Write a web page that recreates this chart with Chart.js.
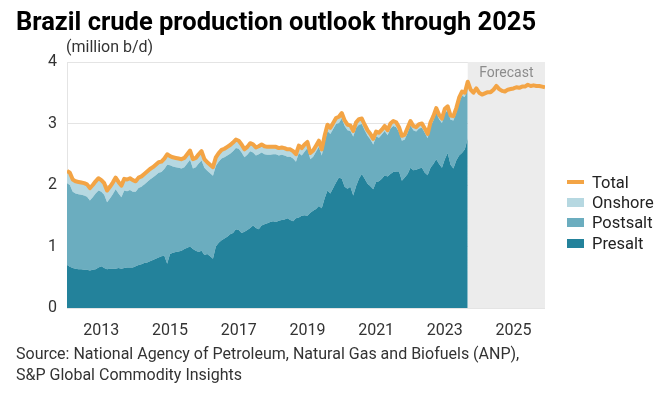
<!DOCTYPE html>
<html>
<head>
<meta charset="utf-8">
<title>Brazil crude production outlook through 2025</title>
<script src="https://cdn.jsdelivr.net/npm/chart.js@4"></script>
<style>
  body { margin: 0; background: #fff; font-family: Roboto, sans-serif; color: #222; }
  #wrap { position: relative; width: 659px; height: 394px; overflow: hidden; }
  #chart { position: absolute; left: 0; top: 0; }
  #title { position: absolute; left: 16px; top: 6px; font-size: 25.5px; font-weight: 700; color: #000; white-space: nowrap; }
  #unit { position: absolute; left: 66px; top: 37px; font-size: 16px; color: #333; }
  #legend { position: absolute; left: 567px; top: 172px; font-size: 16.5px; color: #222; }
  .item { height: 20.4px; display: flex; align-items: center; }
  .swatch { width: 17px; height: 9px; margin-right: 8px; }
  #source { position: absolute; left: 16px; top: 343px; font-size: 16px; line-height: 21px; color: #333; white-space: nowrap; }
</style>
</head>
<body>
<div id="wrap">
  <canvas id="chart" width="659" height="394"></canvas>
  <div id="title">Brazil crude production outlook through 2025</div>
  <div id="unit">(million b/d)</div>
  <div id="legend"></div>
  <div id="source">Source: National Agency of Petroleum, Natural Gas and Biofuels (ANP),<br>S&amp;P Global Commodity Insights</div>
</div>
<script>
// Monthly data, Jan 2012 onward (million b/d)
const startYear = 2012;
const forecastStart = 140; // index of first month inside the forecast band
const tickYears = [2013, 2015, 2017, 2019, 2021, 2023, 2025];

const total = [
  2.23, 2.20, 2.09, 2.06, 2.05, 2.04, 2.03, 2.01, 1.95, 2.00,
  2.06, 2.11, 2.08, 2.03, 1.91, 1.97, 2.04, 2.12, 2.05, 1.99,
  2.10, 2.09, 2.11, 2.08, 2.06, 2.12, 2.14, 2.18, 2.22, 2.26,
  2.29, 2.33, 2.37, 2.38, 2.43, 2.50, 2.47, 2.45, 2.44, 2.43,
  2.42, 2.44, 2.50, 2.56, 2.42, 2.44, 2.50, 2.55, 2.42, 2.37,
  2.33, 2.29, 2.45, 2.52, 2.57, 2.59, 2.62, 2.65, 2.69, 2.74,
  2.72, 2.66, 2.58, 2.62, 2.68, 2.66, 2.61, 2.63, 2.66, 2.63,
  2.62, 2.62, 2.62, 2.62, 2.60, 2.61, 2.60, 2.58, 2.58, 2.55,
  2.50, 2.64, 2.60, 2.66, 2.70, 2.52, 2.56, 2.64, 2.72, 2.58,
  2.80, 2.98, 2.93, 3.01, 3.09, 3.11, 3.17, 3.05, 2.98, 2.97,
  2.88, 3.02, 3.07, 3.08, 2.98, 2.89, 2.83, 2.75, 2.87, 2.85,
  2.90, 2.96, 2.89, 3.00, 3.04, 3.02, 2.94, 2.80, 2.82, 2.93,
  3.04, 2.96, 2.94, 2.99, 3.00, 2.92, 2.83, 3.02, 3.12, 3.25,
  3.14, 3.08, 3.24, 3.28, 3.13, 3.12, 3.25, 3.42, 3.52, 3.50,
  3.68, 3.55, 3.50, 3.57, 3.50, 3.47, 3.49, 3.51, 3.51, 3.55,
  3.61, 3.56, 3.53, 3.52, 3.55, 3.56, 3.57, 3.59, 3.58, 3.60,
  3.60, 3.63, 3.61, 3.62, 3.61, 3.61, 3.60, 3.59
];

const presalt = [
  0.70, 0.67, 0.65, 0.64, 0.63, 0.63, 0.62, 0.62, 0.61, 0.62,
  0.63, 0.66, 0.68, 0.65, 0.63, 0.64, 0.64, 0.64, 0.65, 0.64,
  0.65, 0.66, 0.66, 0.66, 0.68, 0.70, 0.71, 0.73, 0.74, 0.76,
  0.78, 0.80, 0.82, 0.84, 0.85, 0.72, 0.88, 0.90, 0.91, 0.92,
  0.93, 0.96, 0.98, 1.00, 0.96, 0.93, 0.91, 0.93, 0.86, 0.88,
  0.84, 0.80, 1.00, 1.06, 1.10, 1.13, 1.16, 1.20, 1.22, 1.28,
  1.27, 1.22, 1.24, 1.27, 1.30, 1.34, 1.30, 1.28, 1.34, 1.36,
  1.38, 1.40, 1.41, 1.40, 1.42, 1.43, 1.44, 1.46, 1.43, 1.41,
  1.46, 1.47, 1.50, 1.51, 1.50, 1.55, 1.58, 1.61, 1.66, 1.62,
  1.78, 1.91, 1.86, 1.95, 2.04, 2.12, 2.10, 1.97, 1.94, 1.97,
  1.83, 1.98, 2.10, 2.18, 2.10, 2.02, 1.98, 1.93, 2.05, 2.06,
  2.10, 2.16, 2.14, 2.18, 2.21, 2.22, 2.22, 2.07, 2.12, 2.18,
  2.28, 2.24, 2.25, 2.27, 2.28, 2.20, 2.16, 2.28, 2.34, 2.42,
  2.34, 2.28, 2.42, 2.52, 2.33, 2.27, 2.40, 2.48, 2.52, 2.58,
  2.76
];

const postsalt = [
  1.33, 1.33, 1.24, 1.22, 1.22, 1.21, 1.21, 1.19, 1.14, 1.18,
  1.23, 1.25, 1.21, 1.19, 1.09, 1.14, 1.21, 1.29, 1.21, 1.16,
  1.26, 1.24, 1.26, 1.23, 1.21, 1.25, 1.26, 1.28, 1.31, 1.33,
  1.34, 1.36, 1.38, 1.37, 1.41, 1.61, 1.44, 1.40, 1.38, 1.36,
  1.34, 1.33, 1.37, 1.41, 1.31, 1.36, 1.44, 1.47, 1.42, 1.35,
  1.35, 1.35, 1.31, 1.32, 1.33, 1.32, 1.32, 1.31, 1.33, 1.32,
  1.32, 1.31, 1.21, 1.22, 1.25, 1.19, 1.18, 1.22, 1.19, 1.14,
  1.11, 1.09, 1.09, 1.10, 1.06, 1.06, 1.04, 1.00, 1.03, 1.02,
  0.92, 1.05, 0.98, 1.03, 1.10, 0.87, 0.88, 0.93, 0.96, 0.86,
  0.92, 0.97, 0.97, 0.96, 0.95, 0.89, 0.98, 0.99, 0.95, 0.91,
  0.96, 0.95, 0.88, 0.81, 0.79, 0.78, 0.76, 0.73, 0.74, 0.71,
  0.72, 0.72, 0.67, 0.74, 0.75, 0.72, 0.64, 0.65, 0.62, 0.67,
  0.69, 0.65, 0.62, 0.65, 0.65, 0.65, 0.60, 0.67, 0.71, 0.76,
  0.73, 0.73, 0.75, 0.69, 0.73, 0.78, 0.78, 0.87, 0.93, 0.85,
  0.85
];

const onshore = [
  0.20, 0.20, 0.20, 0.20, 0.20, 0.20, 0.20, 0.20, 0.20, 0.20,
  0.20, 0.20, 0.19, 0.19, 0.19, 0.19, 0.19, 0.19, 0.19, 0.19,
  0.19, 0.19, 0.19, 0.19, 0.17, 0.17, 0.17, 0.17, 0.17, 0.17,
  0.17, 0.17, 0.17, 0.17, 0.17, 0.17, 0.15, 0.15, 0.15, 0.15,
  0.15, 0.15, 0.15, 0.15, 0.15, 0.15, 0.15, 0.15, 0.14, 0.14,
  0.14, 0.14, 0.14, 0.14, 0.14, 0.14, 0.14, 0.14, 0.14, 0.14,
  0.13, 0.13, 0.13, 0.13, 0.13, 0.13, 0.13, 0.13, 0.13, 0.13,
  0.13, 0.13, 0.12, 0.12, 0.12, 0.12, 0.12, 0.12, 0.12, 0.12,
  0.12, 0.12, 0.12, 0.12, 0.10, 0.10, 0.10, 0.10, 0.10, 0.10,
  0.10, 0.10, 0.10, 0.10, 0.10, 0.10, 0.09, 0.09, 0.09, 0.09,
  0.09, 0.09, 0.09, 0.09, 0.09, 0.09, 0.09, 0.09, 0.08, 0.08,
  0.08, 0.08, 0.08, 0.08, 0.08, 0.08, 0.08, 0.08, 0.08, 0.08,
  0.07, 0.07, 0.07, 0.07, 0.07, 0.07, 0.07, 0.07, 0.07, 0.07,
  0.07, 0.07, 0.07, 0.07, 0.07, 0.07, 0.07, 0.07, 0.07, 0.07,
  0.07
];

const colors = {
  Total: '#f3a445',
  Onshore: '#b6d8e1',
  Postsalt: '#6badbf',
  Presalt: '#23829b'
};

// x value of each month as a fractional year
const months = total.map((v, i) => startYear + i / 12);
const points = arr => arr.map((v, i) => ({ x: months[i], y: v }));

// Legend
const legend = document.getElementById('legend');
['Total', 'Onshore', 'Postsalt', 'Presalt'].forEach(name => {
  const item = document.createElement('div');
  item.className = 'item';
  const sw = name === 'Total'
    ? `<span class="swatch" style="height:4px;background:${colors[name]}"></span>`
    : `<span class="swatch" style="background:${colors[name]}"></span>`;
  item.innerHTML = sw + name;
  legend.appendChild(item);
});

// Grey forecast band
const forecastBand = {
  id: 'forecastBand',
  beforeDatasetsDraw(chart) {
    const { ctx, chartArea, scales } = chart;
    const x0 = scales.x.getPixelForValue(months[forecastStart]);
    ctx.save();
    ctx.fillStyle = '#ececec';
    ctx.fillRect(x0, chartArea.top, chartArea.right - x0, chartArea.bottom - chartArea.top);
    ctx.fillStyle = '#8c8c8c';
    ctx.font = '14px Roboto';
    ctx.textAlign = 'center';
    ctx.textBaseline = 'middle';
    ctx.fillText('Forecast', (x0 + chartArea.right) / 2, chartArea.top + 11);
    ctx.restore();
  }
};

const area = (label, arr, fill) => ({
  label: label,
  data: points(arr),
  stack: 'production',
  backgroundColor: colors[label],
  borderColor: 'rgba(0,0,0,0)',
  borderWidth: 0,
  fill: fill,
  pointRadius: 0,
  tension: 0
});

new Chart(document.getElementById('chart'), {
  type: 'line',
  data: {
    datasets: [
      {
        label: 'Total',
        data: points(total),
        stack: 'total',
        borderColor: colors.Total,
        borderWidth: 4,
        borderJoinStyle: 'round',
        fill: false,
        pointRadius: 0,
        tension: 0
      },
      area('Presalt', presalt, 'origin'),
      area('Postsalt', postsalt, '-1'),
      area('Onshore', onshore, '-1')
    ]
  },
  options: {
    responsive: false,
    animation: false,
    devicePixelRatio: 1,
    layout: { padding: { top: 62, right: 114, left: 0, bottom: 0 } },
    plugins: { legend: { display: false }, tooltip: { enabled: false } },
    scales: {
      x: {
        type: 'linear',
        min: months[0],
        max: months[months.length - 1],
        grid: { display: false },
        border: { display: false },
        afterBuildTicks: s => { s.ticks = tickYears.map(v => ({ value: v })); },
        afterFit: s => { s.height = 86; },
        ticks: {
          padding: 5,
          autoSkip: false,
          maxRotation: 0,
          color: '#333',
          font: { family: 'Roboto', size: 16 },
          callback: v => String(v)
        }
      },
      y: {
        stacked: true,
        min: 0,
        max: 4,
        afterFit: s => { s.width = 67; },
        ticks: { stepSize: 1, padding: 10, color: '#333', font: { family: 'Roboto', size: 16 } },
        grid: { color: '#e4e4e4', drawTicks: false },
        border: { color: '#e4e4e4' }
      }
    }
  },
  plugins: [forecastBand]
});
</script>
</body>
</html>
